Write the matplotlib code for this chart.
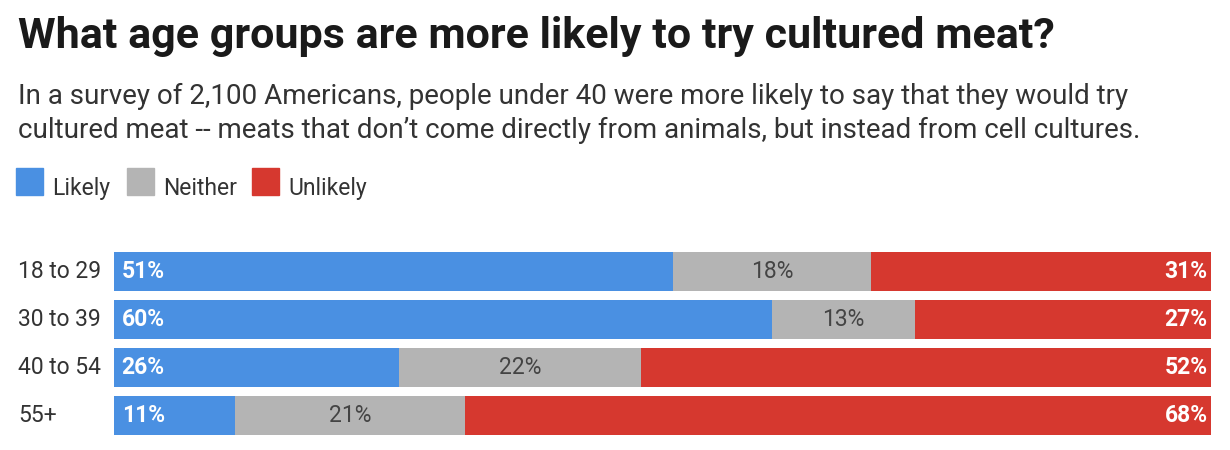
import matplotlib
matplotlib.use("Agg")
import matplotlib.pyplot as plt
from matplotlib.patches import Rectangle
import numpy as np

plt.rcParams['font.family'] = ['Roboto', 'DejaVu Sans']

# data
age_groups = ["18 to 29", "30 to 39", "40 to 54", "55+"]
series = ["Likely", "Neither", "Unlikely"]
likely = [51, 60, 26, 11]
neither = [18, 13, 22, 21]
unlikely = [31, 27, 52, 68]

colors = ["#4a90e2", "#b4b4b4", "#d6382f"]

W, H = 1230, 450
fig = plt.figure(figsize=(W / 100, H / 100), dpi=100)

def fx(px):
    return px / W

def fy(py):
    return 1 - py / H

# bar area in pixels
left, right, top, bottom = 114, 1211, 252, 435
ax = fig.add_axes([fx(left), fy(bottom), fx(right - left), (bottom - top) / H])

values = np.array([likely, neither, unlikely], dtype=float)
y = np.arange(len(age_groups))
bar_h = 39 / 48
starts = np.zeros(len(age_groups))
for i, vals in enumerate(values):
    ax.barh(y, vals, left=starts, height=bar_h, color=colors[i], edgecolor='none')
    for j, v in enumerate(vals):
        if i == 0:
            ax.text(starts[j] + 0.7, y[j], f"{v:.0f}%", ha='left', va='center',
                    color='white', fontsize=16.5, fontweight='bold')
        elif i == 1:
            ax.text(starts[j] + v / 2, y[j], f"{v:.0f}%", ha='center', va='center',
                    color='#444444', fontsize=16.5)
        else:
            ax.text(starts[j] + v - 0.3, y[j], f"{v:.0f}%", ha='right', va='center',
                    color='white', fontsize=16.5, fontweight='bold')
    starts += vals

ax.set_xlim(0, 100)
ax.set_ylim(len(age_groups) - 1 + bar_h / 2, -bar_h / 2)
ax.axis('off')

for j, g in enumerate(age_groups):
    ax.text(-96 / (right - left) * 100, y[j], g, ha='left', va='center',
            fontsize=16.5, color='#333333')

# title / subtitle
fig.text(fx(18), fy(48), "What age groups are more likely to try cultured meat?",
         fontsize=31, fontweight='bold', color='#1a1a1a', va='baseline')
fig.text(fx(18), fy(104),
         "In a survey of 2,100 Americans, people under 40 were more likely to say that they would try",
         fontsize=20, color='#333333', va='baseline')
fig.text(fx(18), fy(138),
         "cultured meat -- meats that don\u2019t come directly from animals, but instead from cell cultures.",
         fontsize=20, color='#333333', va='baseline')

# legend
leg_x = [16, 127, 252]
for name, c, lx in zip(series, colors, leg_x):
    fig.patches.append(Rectangle((fx(lx), fy(195)), fx(27), 27 / H, color=c,
                                 transform=fig.transFigure, figure=fig))
    fig.text(fx(lx + 36), fy(195), name, fontsize=16.5, color='#333333', va='baseline')

fig.savefig("out.png", dpi=100, facecolor='white')
